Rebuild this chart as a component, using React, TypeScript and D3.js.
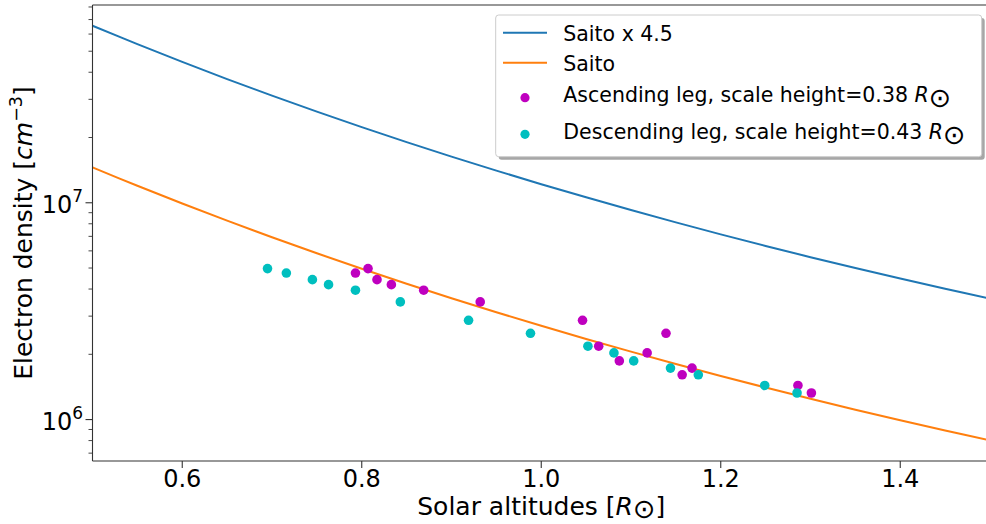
import React from "react";
import * as d3 from "d3";

// Solar altitude above the photosphere, in solar radii
const altitudes = [
  0.5, 0.55, 0.6, 0.65, 0.7, 0.75, 0.8, 0.85, 0.9, 0.95, 1.0,
  1.05, 1.1, 1.15, 1.2, 1.25, 1.3, 1.35, 1.4, 1.45, 1.5,
];

// Saito coronal electron density model, cm^-3
const saitoDensity = [
  1.456e7, 1.198e7, 9.917e6, 8.267e6, 6.933e6, 5.849e6, 4.963e6, 4.233e6,
  3.629e6, 3.127e6, 2.707e6, 2.355e6, 2.057e6, 1.804e6, 1.589e6, 1.405e6,
  1.247e6, 1.111e6, 9.934e5, 8.913e5, 8.023e5,
];

const saitoFactor = 4.5;

// Ascending leg measurements
const ascendingAltitude = [
  0.793, 0.807, 0.817, 0.833, 0.869, 0.932, 1.046, 1.064, 1.087, 1.118,
  1.139, 1.157, 1.168, 1.286, 1.301,
];
const ascendingDensity = [
  4.74e6, 4.97e6, 4.42e6, 4.19e6, 3.95e6, 3.49e6, 2.87e6, 2.18e6, 1.865e6,
  2.03e6, 2.5e6, 1.609e6, 1.727e6, 1.437e6, 1.326e6,
];

// Descending leg measurements
const descendingAltitude = [
  0.695, 0.716, 0.745, 0.763, 0.793, 0.843, 0.919, 0.988, 1.052, 1.081,
  1.103, 1.144, 1.175, 1.249, 1.285,
];
const descendingDensity = [
  4.97e6, 4.74e6, 4.42e6, 4.19e6, 3.95e6, 3.49e6, 2.87e6, 2.5e6, 2.18e6,
  2.03e6, 1.865e6, 1.727e6, 1.609e6, 1.437e6, 1.326e6,
];

const xTicks = [0.6, 0.8, 1.0, 1.2, 1.4];
const yMajorTicks = [1e6, 1e7];

const xDomain = [0.5, 1.5];
const yDomain = [6.44e5, 8.17e7];

const legendLabels = [
  "Saito x 4.5",
  "Saito",
  "Ascending leg, scale height=0.38 ",
  "Descending leg, scale height=0.43 ",
];

const BLUE = "#1f77b4";
const ORANGE = "#ff7f0e";
const MAGENTA = "#bf00bf";
const CYAN = "#00bfbf";
const FONT = "DejaVu Sans, sans-serif";

export default function App() {
  const W = 986;
  const H = 524;
  const left = 92.5;
  const right = 990;
  const top = 5;
  const bottom = 461;

  const x = d3.scaleLinear().domain(xDomain).range([left, right]);
  const y = d3.scaleLog().domain(yDomain).range([bottom, top]);

  const line = d3
    .line<[number, number]>()
    .x((d) => x(d[0]))
    .y((d) => y(d[1]))
    .curve(d3.curveCatmullRom);

  const saitoPts: [number, number][] = altitudes.map((a, i) => [a, saitoDensity[i]]);
  const saitoScaledPts: [number, number][] = altitudes.map((a, i) => [
    a,
    saitoDensity[i] * saitoFactor,
  ]);

  const minorTicks = y
    .ticks()
    .filter((v) => !yMajorTicks.some((m) => Math.abs(m - v) / m < 1e-6));

  const legendRows = [
    { base: 40.7, handle: 32.7 },
    { base: 70.7, handle: 62.7 },
    { base: 102.3, handle: 97.7 },
    { base: 139.3, handle: 134.3 },
  ];
  const legX = 495.7;
  const legY = 15;
  const legW = 486;
  const legH = 141.7;

  return (
    <svg
      width={W}
      height={H}
      style={{ position: "absolute", left: 0, top: 0, background: "#fff" }}
      fontFamily={FONT}
    >
      <defs>
        <clipPath id="plot-area">
          <rect x={left} y={top} width={right - left} height={bottom - top} />
        </clipPath>
      </defs>
      <rect x={0} y={0} width={W} height={H} fill="#fff" />

      <g clipPath="url(#plot-area)">
        <path d={line(saitoScaledPts) || ""} fill="none" stroke={BLUE} strokeWidth={2} />
        <path d={line(saitoPts) || ""} fill="none" stroke={ORANGE} strokeWidth={2} />
        {ascendingAltitude.map((a, i) => (
          <circle key={"a" + i} cx={x(a)} cy={y(ascendingDensity[i])} r={4.8} fill={MAGENTA} />
        ))}
        {descendingAltitude.map((a, i) => (
          <circle key={"d" + i} cx={x(a)} cy={y(descendingDensity[i])} r={4.8} fill={CYAN} />
        ))}
      </g>

      {/* spines */}
      <g stroke="#333" strokeWidth={1.1} fill="none">
        <line x1={left} y1={top} x2={left} y2={bottom} />
        <line x1={left} y1={top} x2={right} y2={top} />
        <line x1={left} y1={bottom} x2={right} y2={bottom} />
        <line x1={right} y1={top} x2={right} y2={bottom} />
      </g>

      {/* x axis */}
      {xTicks.map((t) => (
        <g key={"xt" + t}>
          <line x1={x(t)} x2={x(t)} y1={bottom} y2={bottom + 7} stroke="#333" strokeWidth={1.1} />
          <text x={x(t)} y={486.7} textAnchor="middle" fontSize={24} fill="#000">
            {t.toFixed(1)}
          </text>
        </g>
      ))}
      <text x={(left + right) / 2} y={514.5} textAnchor="middle" fontSize={25} fill="#000">
        Solar altitudes [<tspan fontStyle="italic">R</tspan>
        <tspan fontSize={27} dy={3}>⊙</tspan>
        <tspan dy={-3}>]</tspan>
      </text>

      {/* y axis */}
      {minorTicks.map((t, i) => (
        <line key={"ym" + i} x1={left - 4} x2={left} y1={y(t)} y2={y(t)} stroke="#333" strokeWidth={0.9} />
      ))}
      {yMajorTicks.map((t) => (
        <g key={"yt" + t}>
          <line x1={left - 7} x2={left} y1={y(t)} y2={y(t)} stroke="#333" strokeWidth={1.1} />
          <text x={83} y={y(t) + 10} textAnchor="end" fontSize={24} fill="#000">
            10
            <tspan fontSize={17} dy={-11}>
              {Math.round(Math.log10(t))}
            </tspan>
          </text>
        </g>
      ))}
      <text
        transform={`translate(32,${(top + bottom) / 2}) rotate(-90)`}
        textAnchor="middle"
        fontSize={25}
        fill="#000"
      >
        Electron density [<tspan fontStyle="italic">cm</tspan>
        <tspan fontSize={17.5} dy={-10}>−3</tspan>
        <tspan dy={10}>]</tspan>
      </text>

      {/* legend */}
      <rect x={legX + 3} y={legY + 3} width={legW} height={legH} rx={3} fill="#000" opacity={0.35} />
      <rect x={legX} y={legY} width={legW} height={legH} rx={3} fill="#fff" stroke="#cccccc" strokeWidth={1} />
      <line x1={503} x2={547} y1={legendRows[0].handle} y2={legendRows[0].handle} stroke={BLUE} strokeWidth={2} />
      <line x1={503} x2={547} y1={legendRows[1].handle} y2={legendRows[1].handle} stroke={ORANGE} strokeWidth={2} />
      <circle cx={525} cy={legendRows[2].handle} r={4.6} fill={MAGENTA} />
      <circle cx={525} cy={legendRows[3].handle} r={4.6} fill={CYAN} />
      {legendLabels.map((lab, i) => (
        <text key={"lg" + i} x={563.3} y={legendRows[i].base} fontSize={20.5} fill="#000" xmlSpace="preserve">
          {lab}
          {i >= 2 ? (
            <>
              <tspan fontStyle="italic">R</tspan>
              <tspan fontSize={27} dy={5}>⊙</tspan>
            </>
          ) : null}
        </text>
      ))}
    </svg>
  );
}
